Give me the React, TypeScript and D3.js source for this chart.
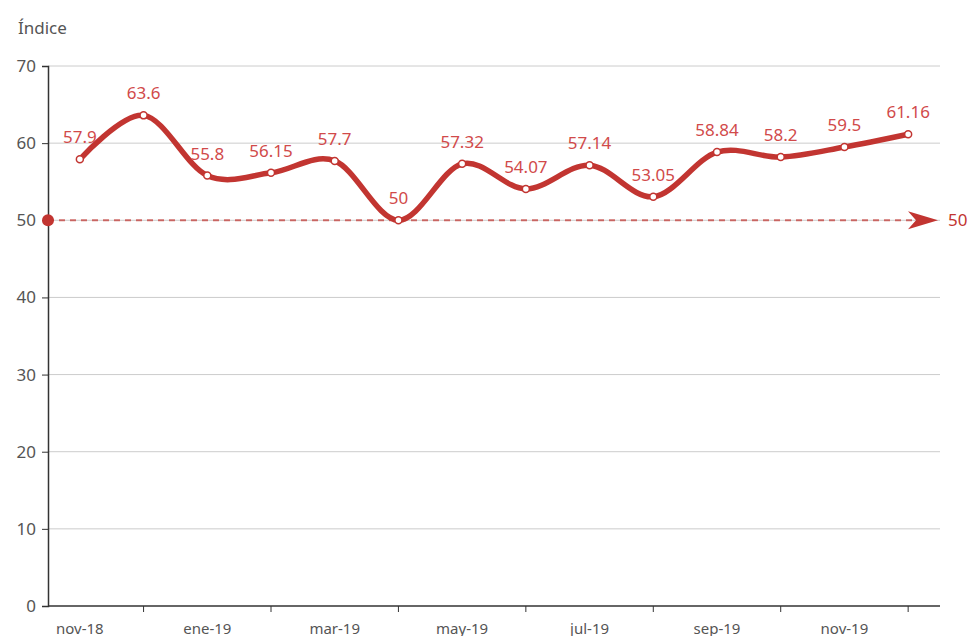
import React, { useEffect, useRef } from 'react';
import * as d3 from 'd3';

const months = ['nov-18', 'dic-18', 'ene-19', 'feb-19', 'mar-19', 'abr-19', 'may-19', 'jun-19', 'jul-19', 'ago-19', 'sep-19', 'oct-19', 'nov-19', 'dic-19'];
const values = [57.9, 63.6, 55.8, 56.15, 57.7, 50, 57.32, 54.07, 57.14, 53.05, 58.84, 58.2, 59.5, 61.16];
const yTicks = [0, 10, 20, 30, 40, 50, 60, 70];
const markValue = 50;

const W = 974;
const H = 636;
const RED = '#c23531';

const App = () => {
  const ref = useRef<SVGSVGElement>(null);

  useEffect(() => {
    const svg = d3.select(ref.current);
    svg.selectAll('*').remove();

    const left = 48, right = 940, top = 66, bottom = 606;

    const x = d3.scaleBand().domain(months).range([left, right]);
    const cx = (m: string) => (x(m) as number) + x.bandwidth() / 2;
    const y = d3.scaleLinear().domain([0, 70]).range([bottom, top]);

    const font = '"Noto Sans", sans-serif';

    // grid lines
    svg.append('g')
      .selectAll('line')
      .data(yTicks.filter(t => t > 0))
      .enter().append('line')
      .attr('x1', left).attr('x2', right)
      .attr('y1', d => y(d)).attr('y2', d => y(d))
      .attr('stroke', '#ccc').attr('stroke-width', 1);

    // y axis
    const yAxis = svg.append('g').attr('transform', `translate(${left},0)`)
      .call(d3.axisLeft(y).tickValues(yTicks).tickSize(6).tickPadding(6));
    yAxis.select('.domain').attr('stroke', '#333').attr('stroke-width', 1.5);
    yAxis.selectAll('.tick line').attr('stroke', '#333');
    yAxis.selectAll('.tick text')
      .attr('fill', '#555').style('font-size', '17px').style('font-family', font);

    // x axis
    const xg = svg.append('g').attr('transform', `translate(0,${bottom})`);
    xg.append('line').attr('x1', left).attr('x2', right).attr('y1', 0).attr('y2', 0)
      .attr('stroke', '#333').attr('stroke-width', 1.5);
    xg.selectAll('line.tick')
      .data(months.filter((_, i) => i % 2 === 1))
      .enter().append('line').attr('class', 'tick')
      .attr('x1', d => cx(d)).attr('x2', d => cx(d))
      .attr('y1', 0).attr('y2', 6).attr('stroke', '#333');
    xg.selectAll('text')
      .data(months.filter((_, i) => i % 2 === 0))
      .enter().append('text')
      .attr('x', d => cx(d)).attr('y', 28)
      .attr('text-anchor', 'middle')
      .attr('fill', '#555').style('font-size', '15px').style('font-family', font)
      .text(d => d);

    // axis name
    svg.append('text')
      .attr('x', 18).attr('y', 34)
      .attr('fill', '#555').style('font-size', '17px').style('font-family', font)
      .text('Índice');

    // mark line at 50
    const my = y(markValue);
    svg.append('line')
      .attr('x1', left).attr('x2', right - 12)
      .attr('y1', my).attr('y2', my)
      .attr('stroke', RED).attr('stroke-opacity', 0.7)
      .attr('stroke-width', 2).attr('stroke-dasharray', '6,5');
    svg.append('circle').attr('cx', left).attr('cy', my).attr('r', 6).attr('fill', RED);
    svg.append('path')
      .attr('d', `M${right - 2},${my} L${right - 32},${my - 9} L${right - 24},${my} L${right - 32},${my + 9} Z`)
      .attr('fill', RED);
    svg.append('text')
      .attr('x', right + 8).attr('y', my + 6)
      .attr('fill', RED).style('font-size', '17px').style('font-family', font)
      .text(String(markValue));

    // series line
    const pts = months.map((m, i) => ({ m, v: values[i] }));
    const line = d3.line<{ m: string; v: number }>()
      .x(d => cx(d.m))
      .y(d => y(d.v))
      .curve(d3.curveCardinal.tension(0));

    svg.append('path')
      .datum(pts)
      .attr('fill', 'none')
      .attr('stroke', RED)
      .attr('stroke-width', 5.5)
      .attr('stroke-linejoin', 'round')
      .attr('d', line);

    svg.append('g').selectAll('circle')
      .data(pts)
      .enter().append('circle')
      .attr('cx', d => cx(d.m)).attr('cy', d => y(d.v))
      .attr('r', 3.5).attr('fill', '#fff').attr('stroke', RED).attr('stroke-width', 1.5);

    svg.append('g').selectAll('text')
      .data(pts)
      .enter().append('text')
      .attr('x', d => cx(d.m)).attr('y', d => y(d.v) - 16)
      .attr('text-anchor', 'middle')
      .attr('fill', '#d14a4a').style('font-size', '17px').style('font-family', font)
      .text(d => String(d.v));
  }, []);

  return (
    <svg ref={ref} width={W} height={H}
      style={{ position: 'absolute', left: 0, top: 0, background: '#fff' }} />
  );
};

export default App;
